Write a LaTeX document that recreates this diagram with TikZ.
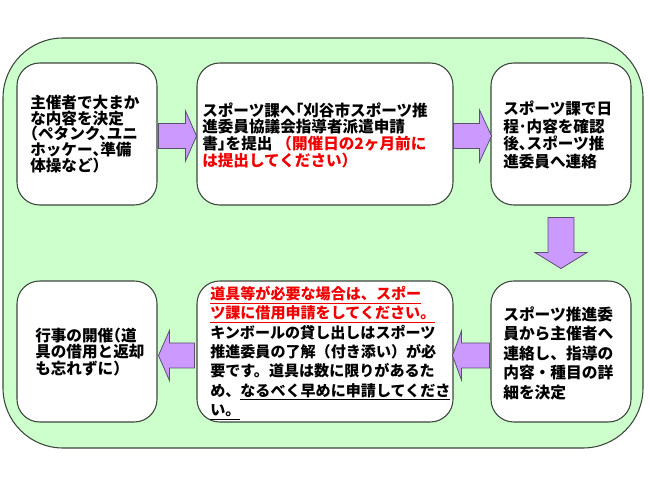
\documentclass[tikz,border=0pt]{standalone}
\usepackage{fontspec}
\newfontfamily\jp{Noto Sans CJK JP}
\newfontfamily\jph{Noto Sans CJK JP}[RawFeature=+halt]
\usetikzlibrary{calc}
\definecolor{bg}{RGB}{204,255,204}
\definecolor{arrfill}{RGB}{204,153,255}
\definecolor{arrline}{RGB}{90,80,110}
\definecolor{boxline}{RGB}{60,70,60}
\definecolor{jred}{RGB}{240,0,0}
\begin{document}
\begin{tikzpicture}[x=0.75pt,y=-0.75pt,
  box/.style={draw=boxline, line width=0.8pt, fill=white, rounded corners=17pt, inner sep=0pt},
  arr/.style={draw=arrline, line width=0.6pt, fill=arrfill, line join=miter},
  txt/.style={inner sep=0pt, anchor=west, align=left}]
\useasboundingbox (0,0) rectangle (650,488);
\filldraw[fill=bg, draw=boxline, line width=0.8pt, rounded corners=45pt] (3,38) rectangle (643,448);

\node[box, minimum width=105pt, minimum height=106.5pt] (b1) at (87,134) {};
\node[box, minimum width=192pt, minimum height=106.5pt] (b2) at (325,134) {};
\node[box, minimum width=105pt, minimum height=106.5pt] (b3) at (561,134) {};
\node[box, minimum width=105pt, minimum height=105.75pt] (b4) at (87,351.5) {};
\node[box, minimum width=192pt, minimum height=105.75pt] (b5) at (325,351.5) {};
\node[box, minimum width=105pt, minimum height=105.75pt] (b6) at (561,351.5) {};

\node[txt, font={\jph\bfseries\fontsize{11.7}{11.9}\selectfont}] (t1) at (30,134)
 {主催者で大まか\\な内容を決定\\（ペタンク、ユニ\\ホッケー、準備\\体操など）};
\node[txt, font={\jph\bfseries\fontsize{11.7}{12.5}\selectfont}] (t2) at (202,135)
 {スポーツ課へ「刈谷市スポーツ推\\進委員協議会指導者派遣申請\\書」を提出\hspace{3pt}\textcolor{jred}{\jp（開催日の2ヶ月前に}\\\textcolor{jred}{は提出してください）}};
\node[txt, font={\jph\bfseries\fontsize{11.7}{13.1}\selectfont}] (t3) at (503,135)
 {スポーツ課で日\\程･内容を確認\\後、スポーツ推\\進委員へ連絡};
\node[txt, font={\jph\bfseries\fontsize{11.7}{12.5}\selectfont}] (t4) at (35,352)
 {行事の開催（道\\具の借用と返却\\も忘れずに）};
\node[txt, font={\jp\bfseries\fontsize{11.3}{14.5}\selectfont}] (t5) at (210,353)
 {\textcolor{jred}{\underline{道具等が必要な場合は、スポー}}\\\textcolor{jred}{\underline{ツ課に借用申請をしてください。}}\\キンボールの貸し出しはスポーツ\\推進委員の了解（付き添い）が必\\要です。道具は数に限りがあるた\\め、\underline{なるべく早めに申請してくださ}\\\underline{い。}};
\node[txt, font={\jp\bfseries\fontsize{11.8}{14.6}\selectfont}] (t6) at (503,353)
 {スポーツ推進委\\員から主催者へ\\連絡し、指導の\\内容・種目の詳\\細を決定};

% arrows
\draw[arr] ($(b1.east)+(1,2)$) ++(0,-12.5) -- ++(27,0) -- ++(0,-12.5) -- ++(11,25) -- ++(-11,25) -- ++(0,-12.5) -- ++(-27,0) -- cycle;
\draw[arr] ($(b2.east)+(0,2)$) ++(0,-12.5) -- ++(26,0) -- ++(0,-13.5) -- ++(12,26) -- ++(-12,26) -- ++(0,-13.5) -- ++(-26,0) -- cycle;
\draw[arr] ($(b3.south)+(0,12)$) ++(-13,0) -- ++(0,35) -- ++(-13,0) -- ++(26,16) -- ++(26,-16) -- ++(-13,0) -- ++(0,-35) -- cycle;
\draw[arr] ($(b6.west)+(-1,4)$) ++(0,-12.5) -- ++(-28,0) -- ++(0,-12) -- ++(-9,24.5) -- ++(9,24.5) -- ++(0,-12) -- ++(28,0) -- cycle;
\draw[arr] ($(b5.west)+(-2,4)$) ++(0,-12.5) -- ++(-25,0) -- ++(0,-12.5) -- ++(-11,25) -- ++(11,25) -- ++(0,-12.5) -- ++(25,0) -- cycle;
\end{tikzpicture}
\end{document}
